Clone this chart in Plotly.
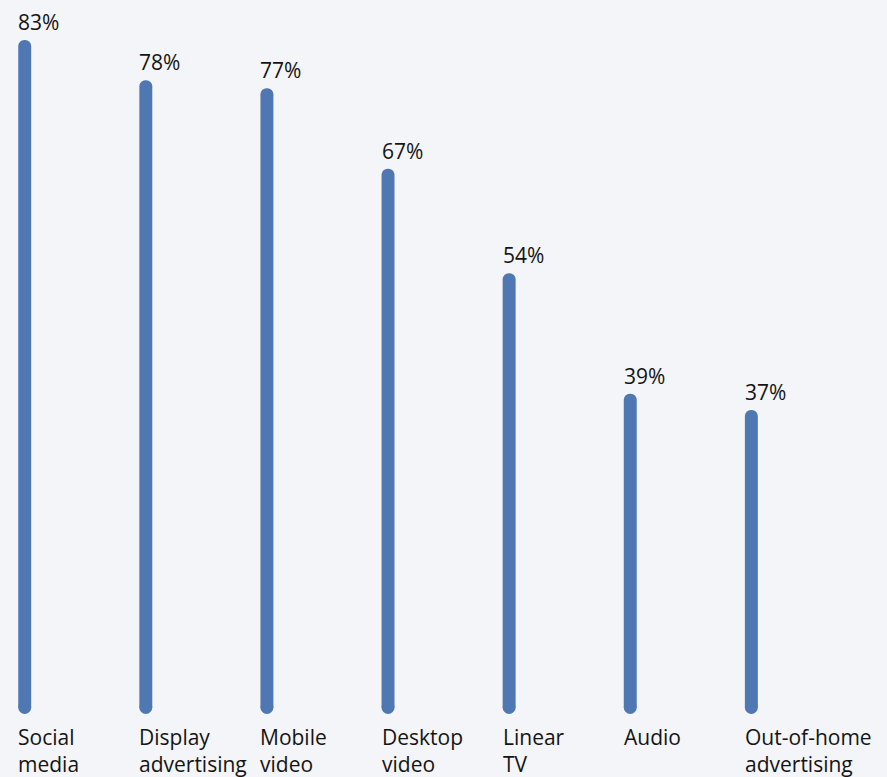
import plotly.graph_objects as go

# Share of respondents by advertising channel
categories = ["Social media", "Display advertising", "Mobile video", "Desktop video",
              "Linear TV", "Audio", "Out-of-home advertising"]
axis_labels = ["Social<br>media", "Display<br>advertising", "Mobile<br>video", "Desktop<br>video",
               "Linear<br>TV", "Audio", "Out-of-home<br>advertising"]
values = [83, 78, 77, 67, 54, 39, 37]

BAR_COLOR = "#4f78b3"
BG = "#f4f5f8"
FONT = "'Open Sans', Lato, sans-serif"
TEXT = "#141414"
BAR_PX = 13

fig = go.Figure()

# Thin bars with rounded tops
fig.add_trace(go.Bar(
    x=categories, y=values, width=0.107,
    marker=dict(color=BAR_COLOR, line=dict(width=0)),
    hoverinfo="skip",
))

# Round caps at the base of each bar
fig.add_trace(go.Scatter(
    x=categories, y=[0] * len(categories), mode="markers",
    marker=dict(color=BAR_COLOR, size=BAR_PX, line=dict(width=0)),
    hoverinfo="skip",
))

annotations = []
for cat, val, lab in zip(categories, values, axis_labels):
    annotations.append(dict(
        x=cat, y=val, xref="x", yref="y", text=f"{val}%",
        xanchor="left", yanchor="bottom", xshift=-BAR_PX / 2 - 2, yshift=2,
        showarrow=False, align="left",
        font=dict(family=FONT, size=21, color=TEXT),
    ))
    annotations.append(dict(
        x=cat, y=0, xref="x", yref="y", text=lab,
        xanchor="left", yanchor="top", xshift=-BAR_PX / 2 - 2, yshift=-13,
        showarrow=False, align="left",
        font=dict(family=FONT, size=21, color=TEXT),
    ))

fig.update_layout(
    width=887, height=777,
    margin=dict(l=0, r=0, t=0, b=0),
    paper_bgcolor=BG, plot_bgcolor=BG,
    showlegend=False,
    barcornerradius="50%",
    xaxis=dict(type="category", range=[-0.204, 7.12], visible=False, fixedrange=True),
    yaxis=dict(range=[-8.64, 87.97], visible=False, fixedrange=True),
    annotations=annotations,
)

fig.write_html("out.html")
